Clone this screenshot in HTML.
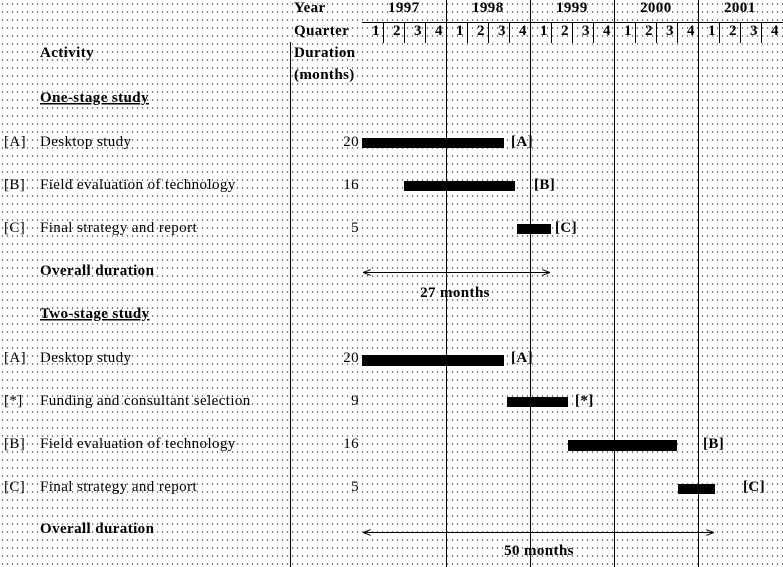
<!DOCTYPE html><html><head><style>
body{margin:0;width:783px;height:567px;overflow:hidden;background:#fff;
background-image:radial-gradient(circle,#444 0.6px,transparent 0.9px);background-size:5px 8px;}
svg{position:absolute;left:0;top:0}
text{font-family:"Liberation Serif",serif;font-size:15px;letter-spacing:0.4px;fill:#000}
.b{font-weight:bold}
</style></head><body>
<svg width="783" height="567">
<defs><marker id="a" markerWidth="8" markerHeight="6" refX="8" refY="3" orient="auto-start-reverse"><path d="M0,0L8,3L0,6" fill="none" stroke="#000"/></marker></defs>
<g stroke="#000" stroke-width="1">
<line x1="290.5" y1="42" x2="290.5" y2="567"/>
<line x1="446.5" y1="0" x2="446.5" y2="567"/><line x1="530.5" y1="0" x2="530.5" y2="567"/>
<line x1="614.5" y1="0" x2="614.5" y2="567"/><line x1="698.5" y1="0" x2="698.5" y2="567"/>
<line x1="362" y1="22.5" x2="783" y2="22.5"/>
<line x1="383.5" y1="22" x2="383.5" y2="43"/><line x1="404.5" y1="22" x2="404.5" y2="43"/><line x1="425.5" y1="22" x2="425.5" y2="43"/>
<line x1="467.5" y1="22" x2="467.5" y2="43"/><line x1="488.5" y1="22" x2="488.5" y2="43"/><line x1="509.5" y1="22" x2="509.5" y2="43"/>
<line x1="551.5" y1="22" x2="551.5" y2="43"/><line x1="572.5" y1="22" x2="572.5" y2="43"/><line x1="593.5" y1="22" x2="593.5" y2="43"/>
<line x1="635.5" y1="22" x2="635.5" y2="43"/><line x1="656.5" y1="22" x2="656.5" y2="43"/><line x1="677.5" y1="22" x2="677.5" y2="43"/>
<line x1="719.5" y1="22" x2="719.5" y2="43"/><line x1="740.5" y1="22" x2="740.5" y2="43"/><line x1="761.5" y1="22" x2="761.5" y2="43"/>
<line x1="363" y1="272.5" x2="550" y2="272.5" marker-start="url(#a)" marker-end="url(#a)"/>
<line x1="363" y1="532.5" x2="714" y2="532.5" marker-start="url(#a)" marker-end="url(#a)"/>
</g>
<g fill="#000">
<rect x="362" y="138" width="142" height="10"/><rect x="404" y="181" width="111" height="10"/><rect x="517" y="224" width="34" height="10"/>
<rect x="362" y="355" width="142" height="11"/><rect x="507" y="397" width="61" height="10"/><rect x="568" y="440" width="109" height="11"/><rect x="678" y="484" width="37" height="10"/>
</g>
<text class="b" x="294" y="12">Year</text><text class="b" x="294" y="35">Quarter</text>
<text class="b" x="388" y="12">1997</text><text class="b" x="472" y="12">1998</text><text class="b" x="556" y="12">1999</text><text class="b" x="640" y="12">2000</text><text class="b" x="724" y="12">2001</text>
<g class="b" text-anchor="middle">
<text x="376" y="35">1</text><text x="397" y="35">2</text><text x="418" y="35">3</text><text x="439" y="35">4</text>
<text x="460" y="35">1</text><text x="481" y="35">2</text><text x="502" y="35">3</text><text x="523" y="35">4</text>
<text x="544" y="35">1</text><text x="565" y="35">2</text><text x="586" y="35">3</text><text x="607" y="35">4</text>
<text x="628" y="35">1</text><text x="649" y="35">2</text><text x="670" y="35">3</text><text x="691" y="35">4</text>
<text x="712" y="35">1</text><text x="733" y="35">2</text><text x="754" y="35">3</text><text x="775" y="35">4</text>
<text x="455" y="297">27 months</text><text x="539" y="555">50 months</text>
</g>
<text class="b" x="40" y="57">Activity</text><text class="b" x="294" y="57">Duration</text><text class="b" x="294" y="79">(months)</text>
<text class="b" x="40" y="102" text-decoration="underline">One-stage study</text>
<text x="4" y="146">[A]</text><text x="40" y="146">Desktop study</text>
<text x="4" y="189">[B]</text><text x="40" y="189">Field evaluation of technology</text>
<text x="4" y="232">[C]</text><text x="40" y="232">Final strategy and report</text>
<text class="b" x="40" y="275">Overall duration</text>
<text class="b" x="40" y="318" text-decoration="underline">Two-stage study</text>
<text x="4" y="362">[A]</text><text x="40" y="362">Desktop study</text>
<text x="4" y="405">[*]</text><text x="40" y="405">Funding and consultant selection</text>
<text x="4" y="448">[B]</text><text x="40" y="448">Field evaluation of technology</text>
<text x="4" y="491">[C]</text><text x="40" y="491">Final strategy and report</text>
<text class="b" x="40" y="533">Overall duration</text>
<g text-anchor="end"><text x="359" y="146">20</text><text x="359" y="189">16</text><text x="359" y="232">5</text>
<text x="359" y="362">20</text><text x="359" y="405">9</text><text x="359" y="448">16</text><text x="359" y="491">5</text></g>
<g class="b"><text x="511" y="146">[A]</text><text x="534" y="189">[B]</text><text x="555" y="232">[C]</text>
<text x="511" y="362">[A]</text><text x="575" y="405">[*]</text><text x="703" y="448">[B]</text><text x="743" y="491">[C]</text></g>
</svg></body></html>
